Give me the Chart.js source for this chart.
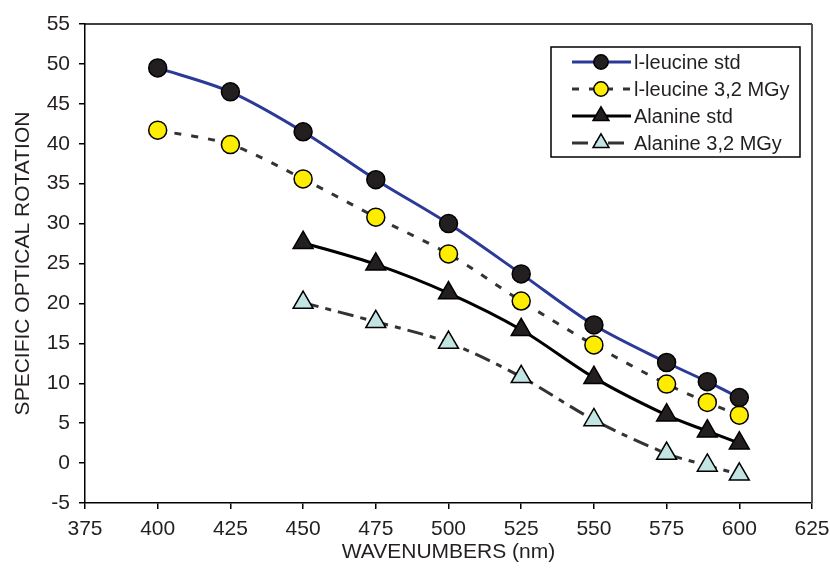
<!DOCTYPE html>
<html>
<head>
<meta charset="utf-8">
<script src="https://cdn.jsdelivr.net/npm/chart.js@4.4.0/dist/chart.umd.min.js"></script>
<style>
  html, body { margin: 0; padding: 0; background: #fff; }
  #wrap { width: 830px; height: 570px; }
</style>
</head>
<body>
<div id="wrap"><canvas id="grafica" width="830" height="570"></canvas></div>
<script>
// Datos
const ondas = [400, 425, 450, 475, 500, 525, 550, 575, 589, 600];
const ondasAlanina = [450, 475, 500, 525, 550, 575, 589, 600];

const leucinaStd = [49.5, 46.5, 41.5, 35.5, 30.0, 23.7, 17.3, 12.6, 10.2, 8.2];
const leucina32 = [41.7, 39.9, 35.6, 30.8, 26.2, 20.3, 14.8, 9.9, 7.6, 6.0];
const alaninaStd = [27.6, 24.9, 21.3, 16.7, 10.7, 6.0, 4.0, 2.5];
const alanina32 = [20.1, 17.7, 15.1, 10.8, 5.4, 1.2, -0.3, -1.4];

const nombres = ["l-leucine std", "l-leucine 3,2 MGy", "Alanine std", "Alanine 3,2 MGy"];
const ticksX = [375, 400, 425, 450, 475, 500, 525, 550, 575, 600, 625];
const ticksY = [-5, 0, 5, 10, 15, 20, 25, 30, 35, 40, 45, 50, 55];

const puntos = (xs, ys) => xs.map((x, i) => ({ x: x, y: ys[i] }));

const texto = "#231F20";
const fuente = "'Liberation Sans', Arial, sans-serif";

// Leyenda dibujada a mano (línea + marcador) y marco del área
const leyenda = {
    id: "leyenda",
    afterDraw(chart) {
        const ctx = chart.ctx;
        const area = chart.chartArea;
        ctx.save();
        // marco superior y derecho
        ctx.strokeStyle = "#000";
        ctx.lineWidth = 1.5;
        ctx.beginPath();
        ctx.moveTo(area.left, area.top);
        ctx.lineTo(area.right, area.top);
        ctx.stroke();
        ctx.strokeStyle = "#555";
        ctx.lineWidth = 2;
        ctx.beginPath();
        ctx.moveTo(area.right, area.top);
        ctx.lineTo(area.right, area.bottom);
        ctx.stroke();

        // caja
        const bx = 551, by = 47, bw = 249, bh = 110;
        ctx.fillStyle = "#fff";
        ctx.fillRect(bx, by, bw, bh);
        ctx.strokeStyle = "#000";
        ctx.lineWidth = 1.5;
        ctx.strokeRect(bx, by, bw, bh);

        const filas = [62, 89, 116, 143];
        chart.data.datasets.forEach((ds, i) => {
            const y = filas[i];
            ctx.strokeStyle = ds.borderColor;
            ctx.lineWidth = ds.borderWidth;
            ctx.setLineDash(ds.borderDash || []);
            ctx.beginPath();
            ctx.moveTo(572, y);
            ctx.lineTo(631, y);
            ctx.stroke();
            ctx.setLineDash([]);
            ctx.fillStyle = ds.pointBackgroundColor;
            ctx.strokeStyle = ds.pointBorderColor;
            ctx.lineWidth = ds.pointBorderWidth;
            Chart.helpers.drawPoint(ctx, {
                pointStyle: ds.pointStyle,
                radius: ds.pointRadius * 0.8,
                rotation: 0,
                borderWidth: ds.pointBorderWidth
            }, 601, y);
            ctx.fillStyle = texto;
            ctx.font = "20px " + fuente;
            ctx.textAlign = "left";
            ctx.textBaseline = "middle";
            ctx.fillText(ds.label, 634, y + 1);
        });
        ctx.restore();
    }
};

new Chart(document.getElementById("grafica"), {
    type: "line",
    data: {
        datasets: [
            {
                label: nombres[0],
                data: puntos(ondas, leucinaStd),
                borderColor: "#2B3A97",
                borderWidth: 3,
                tension: 0.3,
                pointStyle: "circle",
                pointRadius: 9,
                pointBackgroundColor: "#231F20",
                pointBorderColor: "#000",
                pointBorderWidth: 1.5
            },
            {
                label: nombres[1],
                data: puntos(ondas, leucina32),
                borderColor: "#333",
                borderWidth: 3,
                borderDash: [7, 10],
                tension: 0.3,
                pointStyle: "circle",
                pointRadius: 9,
                pointBackgroundColor: "#FFED00",
                pointBorderColor: "#000",
                pointBorderWidth: 1.5
            },
            {
                label: nombres[2],
                data: puntos(ondasAlanina, alaninaStd),
                borderColor: "#000",
                borderWidth: 3,
                tension: 0.3,
                pointStyle: "triangle",
                pointRadius: 11.5,
                pointBackgroundColor: "#231F20",
                pointBorderColor: "#000",
                pointBorderWidth: 1.5
            },
            {
                label: nombres[3],
                data: puntos(ondasAlanina, alanina32),
                borderColor: "#333",
                borderWidth: 3,
                borderDash: [16, 7, 6, 7],
                tension: 0.3,
                pointStyle: "triangle",
                pointRadius: 11.5,
                pointBackgroundColor: "#C2E4E3",
                pointBorderColor: "#000",
                pointBorderWidth: 1.5
            }
        ]
    },
    options: {
        responsive: false,
        animation: false,
        layout: { padding: { top: 24, right: 18, left: 0, bottom: 0 } },
        plugins: {
            legend: { display: false },
            tooltip: { enabled: false }
        },
        scales: {
            x: {
                type: "linear",
                min: 375,
                max: 625,
                afterBuildTicks: (scale) => { scale.ticks = ticksX.map(v => ({ value: v })); },
                afterFit: (scale) => {
                    scale.height = 67;
                    scale.paddingLeft = 0;
                    scale.paddingRight = 0;
                },
                grid: { drawOnChartArea: false, drawTicks: true, tickLength: 6, color: "#000", lineWidth: 1.5 },
                border: { color: "#000", width: 1.5 },
                ticks: {
                    color: texto,
                    padding: 8,
                    maxRotation: 0,
                    font: { family: fuente, size: 21 }
                },
                title: {
                    display: true,
                    text: "WAVENUMBERS (nm)",
                    color: texto,
                    padding: { top: 0, bottom: 5 },
                    font: { family: fuente, size: 21 }
                }
            },
            y: {
                min: -5,
                max: 55,
                afterBuildTicks: (scale) => { scale.ticks = ticksY.map(v => ({ value: v })); },
                afterFit: (scale) => {
                    scale.width = 85;
                    scale.paddingTop = 0;
                    scale.paddingBottom = 0;
                },
                grid: { drawOnChartArea: false, drawTicks: true, tickLength: 6, color: "#000", lineWidth: 1.5 },
                border: { color: "#000", width: 1.5 },
                ticks: {
                    color: texto,
                    padding: 9,
                    font: { family: fuente, size: 21 }
                },
                title: {
                    display: true,
                    text: "SPECIFIC OPTICAL ROTATION",
                    color: texto,
                    padding: { top: 11, bottom: 0 },
                    font: { family: fuente, size: 21 }
                }
            }
        }
    },
    plugins: [leyenda]
});
</script>
</body>
</html>
